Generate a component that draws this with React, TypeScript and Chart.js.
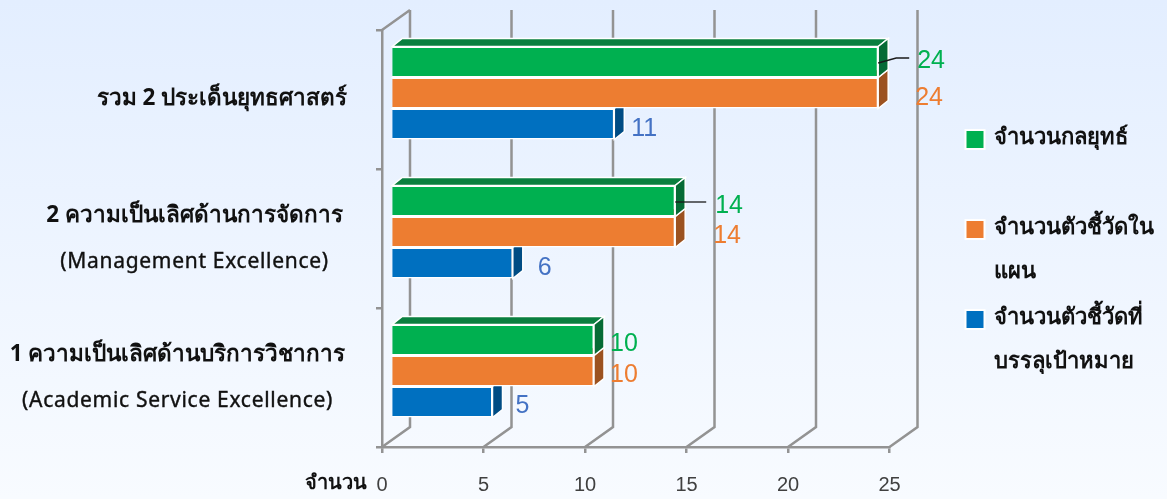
import React, { useEffect, useRef } from "react";
import { Chart, registerables } from "chart.js";

Chart.register(...registerables);

// ---- data ----
const categories: string[][] = [
  ["รวม 2 ประเด็นยุทธศาสตร์"],
  ["2 ความเป็นเลิศด้านการจัดการ", "(Management Excellence)"],
  ["1 ความเป็นเลิศด้านบริการวิชาการ", "(Academic Service Excellence)"],
];
const strategies = [24, 14, 10];
const indicators = [24, 14, 10];
const targetIndicators = [11, 6, 5];
const seriesNames: string[][] = [
  ["จำนวนกลยุทธ์"],
  ["จำนวนตัวชี้วัดใน", "แผน"],
  ["จำนวนตัวชี้วัดที่", "บรรลุเป้าหมาย"],
];
const axisTitle = "จำนวน";

// ---- styles ----
const W = 1167;
const H = 499;
const FONT = "'Noto Sans', 'Liberation Sans', sans-serif";
const VALUE_FONT = "25px 'Liberation Sans', sans-serif";
const GRID = "#939393";
const faces = ["#00b050", "#ed7d31", "#0070c0"];
const tops = ["#0a7f3f", "#a85a24", "#004c84"];
const sides = ["#066b35", "#9c5220", "#004c84"];
const labelColors = ["#00b050", "#ed7d31", "#4472c4"];
const WALL = { dx: 28, dy: -20 };
const PLANE = { dx: 9, dy: -6.5 };
const DEPTH = { dx: 10, dy: -8 };
const labelCenters = [222, 194.5, 177.5];
const labelShift = [
  [39, 40, 16],
  [37, 38, 16],
  [17, 25, 23],
];
const labelGap = [
  [-1, 5, 4],
  [5, 4, 4],
  [5, 5, 4],
];
const leaderRise = [5, 0];
const legendY = [139.5, 229.5, 319.5];
const LEGEND_X = 965.5;
const LEGEND_TEXT_X = 994;

const threeD = {
  id: "threeD",
  beforeDatasetsDraw(chart: any) {
    const { ctx, scales } = chart;
    const x = scales.x;
    const y = scales.y;
    ctx.save();
    ctx.strokeStyle = GRID;
    ctx.lineWidth = 2.5;
    ctx.beginPath();
    x.ticks.forEach((t: any) => {
      const px = x.getPixelForValue(t.value);
      ctx.moveTo(px, y.bottom);
      ctx.lineTo(px + WALL.dx, y.bottom + WALL.dy);
      ctx.lineTo(px + WALL.dx, y.top + WALL.dy);
    });
    ctx.moveTo(x.left, y.top);
    ctx.lineTo(x.left + WALL.dx, y.top + WALL.dy);
    ctx.stroke();
    ctx.restore();
  },
  beforeDatasetDraw(chart: any, args: any) {
    const { ctx } = chart;
    const meta = args.meta;
    const i = args.index;
    ctx.save();
    ctx.translate(PLANE.dx, PLANE.dy);
    meta.data.forEach((bar: any) => {
      const l = bar.base;
      const r = bar.x;
      const t = bar.y - bar.height / 2;
      const b = bar.y + bar.height / 2;
      ctx.lineWidth = 1.5;
      ctx.strokeStyle = "#ffffff";
      ctx.fillStyle = tops[i];
      ctx.beginPath();
      ctx.moveTo(l, t);
      ctx.lineTo(l + DEPTH.dx, t + DEPTH.dy);
      ctx.lineTo(r + DEPTH.dx, t + DEPTH.dy);
      ctx.lineTo(r, t);
      ctx.closePath();
      ctx.fill();
      ctx.stroke();
      ctx.fillStyle = sides[i];
      ctx.beginPath();
      ctx.moveTo(r, t);
      ctx.lineTo(r + DEPTH.dx, t + DEPTH.dy);
      ctx.lineTo(r + DEPTH.dx, b + DEPTH.dy);
      ctx.lineTo(r, b);
      ctx.closePath();
      ctx.fill();
      ctx.stroke();
    });
  },
  afterDatasetDraw(chart: any) {
    chart.ctx.restore();
  },
  afterDraw(chart: any) {
    const { ctx, scales, data } = chart;
    const y = scales.y;
    ctx.save();
    // category labels
    ctx.fillStyle = "#111111";
    ctx.strokeStyle = "#111111";
    ctx.textAlign = "center";
    ctx.textBaseline = "middle";
    categories.forEach((lines, c) => {
      const cy = y.getPixelForValue(c);
      lines.forEach((line, n) => {
        const off = (n - (lines.length - 1) / 2) * 45;
        const latin = line.startsWith("(");
        ctx.font = latin ? `21px ${FONT}` : `bold 22.5px ${FONT}`;
        (ctx as any).letterSpacing = latin ? "0.7px" : "0px";
        const ly = cy + off + (latin ? 1 : -0.5);
        ctx.fillText(line, labelCenters[c], ly);
        if (latin) {
          ctx.lineWidth = 0.4;
          ctx.strokeText(line, labelCenters[c], ly);
        }
      });
    });
    (ctx as any).letterSpacing = "0px";
    // axis title
    ctx.font = `bold 20px ${FONT}`;
    ctx.textAlign = "right";
    ctx.fillText(axisTitle, 367, 483);

    // value labels + leader lines
    ctx.font = VALUE_FONT;
    ctx.textAlign = "left";
    data.datasets.forEach((ds: any, d: number) => {
      const meta = chart.getDatasetMeta(d);
      meta.data.forEach((bar: any, c: number) => {
        const ex = bar.x + PLANE.dx;
        const ey = bar.y + PLANE.dy;
        ctx.fillStyle = labelColors[d];
        ctx.fillText(String(ds.data[c]), ex + labelShift[d][c], ey + labelGap[d][c]);
        if (d === 0 && c < leaderRise.length) {
          ctx.strokeStyle = "#1a1a1a";
          ctx.lineWidth = 1.3;
          ctx.beginPath();
          ctx.moveTo(ex, ey + 1);
          ctx.lineTo(ex + 18, ey + 1 - leaderRise[c]);
          ctx.lineTo(ex + 31, ey + 1 - leaderRise[c]);
          ctx.stroke();
        }
      });
    });

    // legend
    ctx.textAlign = "left";
    data.datasets.forEach((ds: any, d: number) => {
      const ly = legendY[d];
      ctx.fillStyle = faces[d];
      ctx.strokeStyle = "#ffffff";
      ctx.lineWidth = 2;
      ctx.fillRect(LEGEND_X, ly - 9.5, 19, 19);
      ctx.strokeRect(LEGEND_X, ly - 9.5, 19, 19);
      ctx.fillStyle = "#111111";
      ctx.font = `bold 22px ${FONT}`;
      seriesNames[d].forEach((line, n) => {
        ctx.fillText(line, LEGEND_TEXT_X, ly - 2 + n * 44.5);
      });
    });
    ctx.restore();
  },
};

export default function App() {
  const ref = useRef<HTMLCanvasElement | null>(null);
  useEffect(() => {
    const chart = new Chart(ref.current as HTMLCanvasElement, {
      type: "bar",
      data: {
        labels: categories.map((c) => c.join(" ")),
        datasets: [strategies, indicators, targetIndicators].map((values, i) => ({
          label: seriesNames[i].join(""),
          data: values,
          backgroundColor: faces[i],
          borderColor: "#ffffff",
          borderWidth: 1.5,
          categoryPercentage: 93 / 139,
          barPercentage: 1,
          clip: false as any,
        })),
      },
      options: {
        indexAxis: "y",
        responsive: false,
        animation: false,
        layout: { padding: { top: 30, right: W - 889.5, left: 0, bottom: 0 } },
        plugins: { legend: { display: false }, title: { display: false }, tooltip: { enabled: false } },
        scales: {
          x: {
            min: 0,
            max: 25,
            ticks: {
              stepSize: 5,
              color: "#404040",
              font: { family: "'Liberation Sans', sans-serif", size: 20 },
              padding: 20,
              maxRotation: 0,
            },
            grid: { drawOnChartArea: false, drawTicks: true, tickLength: 6, color: GRID, lineWidth: 2.5 },
            border: { display: true, color: GRID, width: 2.5 },
            afterFit(scale: any) {
              scale.height = H - 447;
            },
          },
          y: {
            ticks: { display: false },
            grid: { drawOnChartArea: false, drawTicks: true, tickLength: 6, color: GRID, lineWidth: 2.5, offset: true },
            border: { display: true, color: GRID, width: 2.5 },
            afterFit(scale: any) {
              scale.width = 382;
            },
          },
        },
      } as any,
      plugins: [threeD as any],
    });
    return () => chart.destroy();
  }, []);
  return (
    <div
      style={{
        position: "fixed",
        left: 0,
        top: 0,
        width: W,
        height: H,
        background: "linear-gradient(180deg, #e3eeff 0%, #f8fbff 100%)",
      }}
    >
      <canvas ref={ref} width={W} height={H} style={{ display: "block", width: W, height: H }} />
    </div>
  );
}
